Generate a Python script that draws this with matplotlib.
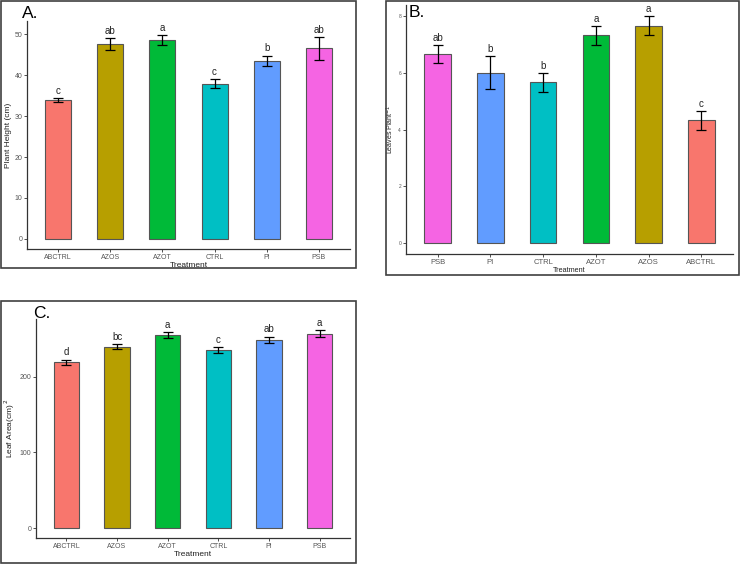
import matplotlib
matplotlib.use("Agg")
import matplotlib.pyplot as plt
from matplotlib.patches import Rectangle

plt.rcParams['font.family'] = ['Liberation Sans', 'DejaVu Sans']

# ggplot default hue palette for the six treatments
colors = {"ABCTRL": "#F8766D", "AZOS": "#B79F00", "AZOT": "#00BA38",
          "CTRL": "#00BFC4", "PI": "#619CFF", "PSB": "#F564E3"}

# Panel A - plant height
a_treat = ["ABCTRL", "AZOS", "AZOT", "CTRL", "PI", "PSB"]
a_mean = [34.0, 47.6, 48.7, 38.0, 43.6, 46.6]
a_err = [0.55, 1.45, 1.2, 1.15, 1.25, 2.75]
a_sig = ["c", "ab", "a", "c", "b", "ab"]

# Panel B - leaves per plant
b_treat = ["PSB", "PI", "CTRL", "AZOT", "AZOS", "ABCTRL"]
b_mean = [6.67, 6.0, 5.67, 7.33, 7.67, 4.33]
b_err = [0.33, 0.58, 0.33, 0.33, 0.33, 0.33]
b_sig = ["ab", "b", "b", "a", "a", "c"]

# Panel C - leaf area
c_treat = ["ABCTRL", "AZOS", "AZOT", "CTRL", "PI", "PSB"]
c_mean = [218.8, 239.5, 254.5, 234.7, 248.4, 256.6]
c_err = [3.7, 3.7, 4.2, 4.2, 4.4, 4.6]
c_sig = ["d", "bc", "a", "c", "ab", "a"]

W, H = 740, 564
fig = plt.figure(figsize=(7.4, 5.64), dpi=100)


def px_axes(x0, y0, x1, y1):
    # pixel box (top-left origin) to figure axes
    return fig.add_axes([x0 / W, 1 - y1 / H, (x1 - x0) / W, (y1 - y0) / H])


def px_box(x0, y0, x1, y1):
    fig.patches.append(Rectangle((x0 / W, 1 - y1 / H), (x1 - x0) / W, (y1 - y0) / H,
                                 transform=fig.transFigure, fill=False,
                                 edgecolor="#404040", linewidth=1.2))


def bar_panel(ax, treat, mean, err, sig, ylim, yticks, ylabel,
              tick_fs=5, ytick_fs=5, lab_fs=6, ylab_fs=6, sig_fs=7, ylpad=1.5):
    x = list(range(1, len(treat) + 1))
    ax.bar(x, mean, width=0.5, color=[colors[t] for t in treat],
           edgecolor="#555555", linewidth=0.8, zorder=2)
    ax.errorbar(x, mean, yerr=err, fmt="none", ecolor="black",
                elinewidth=0.9, capsize=3.8, capthick=0.9, zorder=3)
    for xi, m, e, s in zip(x, mean, err, sig):
        ax.annotate(s, (xi, m + e), xytext=(0, 1.5), textcoords="offset points",
                    ha="center", va="bottom", fontsize=sig_fs, color="#222222")
    ax.set_xlim(0.4, 6.6)
    ax.set_ylim(*ylim)
    ax.set_yticks(yticks)
    ax.set_xticks(x)
    ax.set_xticklabels(treat)
    for s in ["top", "right"]:
        ax.spines[s].set_visible(False)
    for s in ["left", "bottom"]:
        ax.spines[s].set_color("#333333")
        ax.spines[s].set_linewidth(0.9)
    ax.tick_params(axis="x", labelsize=tick_fs, colors="#333333",
                   labelcolor="#555555", length=2, width=0.6, pad=1.5)
    ax.tick_params(axis="y", labelsize=ytick_fs, colors="#333333",
                   labelcolor="#555555", length=2, width=0.6, pad=1.5)
    ax.set_xlabel("Treatment", fontsize=lab_fs, labelpad=0.5, color="#222222")
    ax.set_ylabel(ylabel, fontsize=ylab_fs, labelpad=ylpad, color="#222222")
    ax.set_facecolor("white")


# outer frames
px_box(1, 1, 356, 268)
px_box(386, 1, 739, 275)
px_box(1, 301, 356, 563)

axA = px_axes(27, 21, 350, 249)
bar_panel(axA, a_treat, a_mean, a_err, a_sig, (-2.5, 53.3),
          [0, 10, 20, 30, 40, 50], "Plant Height (cm)")

axB = px_axes(406, 5, 733, 254)
bar_panel(axB, b_treat, b_mean, b_err, b_sig, (-0.4, 8.4),
          [0, 2, 4, 6, 8], "Leaves Plant$^{-1}$",
          tick_fs=5.5, ytick_fs=3.5, lab_fs=5.2, ylab_fs=5, sig_fs=7, ylpad=2)

axC = px_axes(36, 319, 350, 538)
bar_panel(axC, c_treat, c_mean, c_err, c_sig, (-13, 276),
          [0, 100, 200], "Leaf Area(cm)$^{\\,2}$", ylpad=1.5)

# panel letters
fig.text(22 / W, 1 - 18.5 / H, "A.", fontsize=12.5, ha="left", va="baseline")
fig.text(409 / W, 1 - 17 / H, "B.", fontsize=12.5, ha="left", va="baseline")
fig.text(33 / W, 1 - 318 / H, "C.", fontsize=12.5, ha="left", va="baseline")

fig.savefig("out.png", dpi=100, facecolor="white")
